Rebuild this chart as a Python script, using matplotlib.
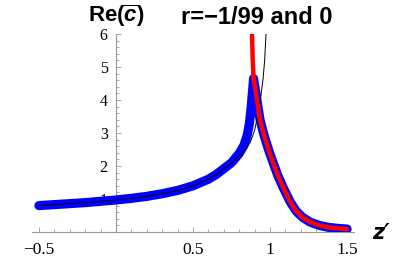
import numpy as np
import matplotlib
matplotlib.use("Agg")
from matplotlib import pyplot as plt
from matplotlib.ticker import MultipleLocator, FixedLocator

# r = -1/99 (blue, thick)
z_blue = [-0.5, -0.4, -0.3, -0.2, -0.1, 0.0, 0.1, 0.2, 0.3, 0.4, 0.5, 0.6, 0.65,
          0.7, 0.75, 0.8, 0.83, 0.85, 0.865, 0.878, 0.888, 0.893,
          0.91, 0.935, 0.96, 0.99, 1.02, 1.05, 1.084, 1.13, 1.17, 1.21, 1.26, 1.32,
          1.38, 1.44, 1.5]
c_blue = [0.80, 0.83, 0.86, 0.89, 0.93, 0.97, 1.02, 1.08, 1.16, 1.26, 1.40, 1.60, 1.74,
          1.92, 2.1, 2.38, 2.62, 2.9, 3.25, 3.8, 4.35, 4.65,
          4.15, 3.4, 2.95, 2.5, 2.1, 1.72, 1.36, 0.92, 0.63, 0.45, 0.3, 0.2,
          0.14, 0.11, 0.09]

# r = -1/99 (red, upper branch)
z_red = [0.883, 0.887, 0.893, 0.91, 0.935, 0.96, 0.99, 1.02, 1.05, 1.084, 1.13, 1.17,
         1.21, 1.26, 1.32, 1.38, 1.44, 1.5]
c_red = [6.0, 5.3, 4.65, 4.15, 3.4, 2.95, 2.5, 2.1, 1.72, 1.36, 0.92, 0.63,
         0.45, 0.3, 0.2, 0.14, 0.11, 0.09]

# r = 0 (thin black)
z_black = [-0.5, -0.4, -0.3, -0.2, -0.1, 0.0, 0.1, 0.2, 0.3, 0.4, 0.5, 0.6, 0.65,
           0.7, 0.75, 0.8, 0.84, 0.87, 0.9, 0.925, 0.94, 0.955, 0.965, 0.974]
c_black = [0.80, 0.83, 0.86, 0.89, 0.93, 0.97, 1.02, 1.08, 1.16, 1.26, 1.40, 1.60, 1.74,
           1.92, 2.08, 2.32, 2.5, 2.7, 3.08, 3.65, 4.1, 4.65, 5.2, 6.0]

xticks = [-0.5, 0.5, 1, 1.5]
xticklabels = ["\u22120.5", "0.5", "1", "1.5"]
yticks = [1, 2, 3, 4, 5, 6]

fig = plt.figure(figsize=(4.15, 2.6), dpi=100)
ax = fig.add_axes([32 / 415, 28 / 260, 322 / 415, 198 / 260])

ax.plot(z_blue, c_blue, color="#0000ff", lw=6.6, solid_capstyle="round",
        solid_joinstyle="round", zorder=3)
ax.plot(z_black, c_black, color="black", lw=0.7, zorder=4)
ax.plot(z_red, c_red, color="#ff0000", lw=3.2, solid_capstyle="round",
        solid_joinstyle="round", zorder=5)

ax.set_xlim(-0.545, 1.545)
ax.set_ylim(0, 6)

# Mathematica-style axes crossing at the origin
for side in ["top", "right"]:
    ax.spines[side].set_visible(False)
ax.spines["left"].set_position(("data", 0))
ax.spines["bottom"].set_position(("data", 0))
for side in ["left", "bottom"]:
    ax.spines[side].set_color("#999999")
    ax.spines[side].set_linewidth(0.8)

ax.xaxis.set_major_locator(FixedLocator(xticks))
ax.set_xticklabels(xticklabels)
ax.xaxis.set_minor_locator(MultipleLocator(0.1))
ax.yaxis.set_major_locator(FixedLocator(yticks))
ax.yaxis.set_minor_locator(MultipleLocator(0.2))

ax.tick_params(which="both", direction="in", color="#999999", width=0.6)
ax.tick_params(which="major", length=3.5)
ax.tick_params(which="minor", length=2)
ax.tick_params(axis="x", pad=7, labelsize=12.5)
ax.tick_params(axis="y", pad=6, labelsize=11.5)
for lab in ax.get_xticklabels() + ax.get_yticklabels():
    lab.set_fontfamily("Liberation Serif")

plt.rcParams["mathtext.fontset"] = "custom"
plt.rcParams["mathtext.it"] = "Liberation Sans:italic:bold"
plt.rcParams["mathtext.rm"] = "Liberation Sans:bold"

fig.text(116 / 415, 1 - 16 / 260, r"Re($\overline{c}$)", ha="center", va="center",
         fontsize=16, fontweight="bold", family="Liberation Sans")
fig.text(257 / 415, 1 - 17 / 260, "r=\u22121/99 and 0", ha="center", va="center",
         fontsize=17, fontweight="bold", family="Liberation Sans")
fig.text(381 / 415, 1 - 233 / 260, "z\u2032", ha="center", va="center",
         fontsize=15, fontweight="bold", style="italic", family="DejaVu Sans")

fig.savefig("out.png", dpi=100)
